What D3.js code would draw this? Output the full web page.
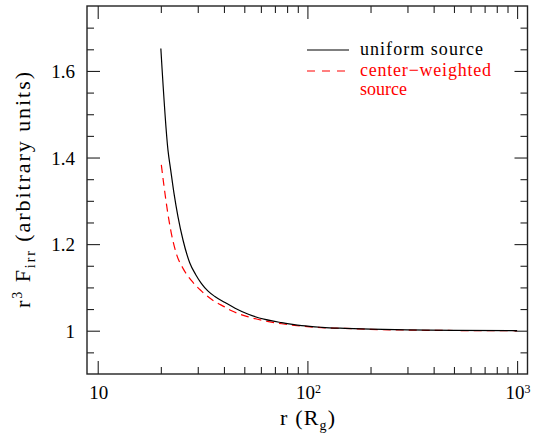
<!DOCTYPE html>
<html>
<head>
<meta charset="utf-8">
<script src="https://cdn.jsdelivr.net/npm/d3@7"></script>
<style>
  html, body { margin: 0; padding: 0; background: #fff; }
  svg { display: block; }
</style>
</head>
<body>
<svg id="chart" width="538" height="435"></svg>
<script>
// ---- data ----
const rUniform = [20, 21.63, 22.29, 23.11, 24.15, 25.51, 27.46, 29.3, 31.19, 33.5, 36.2, 40.5, 45.2, 52.3, 62.8, 75.4, 93.9, 117, 151, 200, 300, 500, 1000];
const yUniform = [1.652, 1.417, 1.371, 1.317, 1.263, 1.2095, 1.157, 1.130, 1.1095, 1.092, 1.079, 1.065, 1.052, 1.038, 1.026, 1.0185, 1.0116, 1.0079, 1.0055, 1.0035, 1.0018, 1.0008, 1.000];
const rCenter = [20.11, 20.72, 21.47, 22.44, 23.71, 25.51, 27.95, 31.19, 35.5, 40.3, 43.5, 52.3, 62.8, 75.4, 93.9, 117, 151, 200, 300, 500, 1000];
const yCenter = [1.383, 1.333, 1.279, 1.225, 1.178, 1.144, 1.116, 1.092, 1.070, 1.055, 1.046, 1.032, 1.0225, 1.016, 1.0105, 1.007, 1.0052, 1.003, 1.0015, 1.0005, 1.000];
const seriesNames = ["uniform source", "center\u2212weighted", "source"];
const xMajorTicks = [10, 100, 1000];
const xMajorBase = ["10", "10", "10"];
const xMajorExp = ["", "2", "3"];
const xMinorTicks = [20, 30, 40, 50, 60, 70, 80, 90, 200, 300, 400, 500, 600, 700, 800, 900];
const yMajorTicks = [1, 1.2, 1.4, 1.6];
const yMajorLabels = ["1", "1.2", "1.4", "1.6"];
const yMinorTicks = [0.95, 1.05, 1.1, 1.15, 1.25, 1.3, 1.35, 1.45, 1.5, 1.55, 1.65, 1.7];
const xDomain = [8.89, 1121];
const yDomain = [0.9, 1.75];

// ---- layout ----
const FONT = "'Liberation Serif', 'DejaVu Serif', serif";
const L = 87, R = 527.5, T = 6, B = 374;
const svg = d3.select("#chart").attr("font-family", FONT);
const x = d3.scaleLog().domain(xDomain).range([L, R]);
const y = d3.scaleLinear().domain(yDomain).range([B, T]);

const axisColor = "#222";
const majorLen = 13, minorLen = 7;

function styleAxis(g) {
  g.select(".domain").remove();
  g.selectAll("line").attr("stroke", axisColor).attr("stroke-width", 1.1);
  g.selectAll("text").remove();
}
function ticks(axisFn, pos, isX, vals, len) {
  svg.append("g").attr("transform", isX ? `translate(0,${pos})` : `translate(${pos},0)`)
    .call(axisFn(isX ? x : y).tickValues(vals).tickSize(-len).tickFormat("")).call(styleAxis);
}
ticks(d3.axisBottom, B, true, xMajorTicks, majorLen);
ticks(d3.axisBottom, B, true, xMinorTicks, minorLen);
ticks(d3.axisTop, T, true, xMajorTicks, majorLen);
ticks(d3.axisTop, T, true, xMinorTicks, minorLen);
ticks(d3.axisLeft, L, false, yMajorTicks, majorLen);
ticks(d3.axisLeft, L, false, yMinorTicks, minorLen);
ticks(d3.axisRight, R, false, yMajorTicks, majorLen);
ticks(d3.axisRight, R, false, yMinorTicks, minorLen);

// frame
svg.append("rect").attr("x", L).attr("y", T).attr("width", R - L).attr("height", B - T)
  .attr("fill", "none").attr("stroke", axisColor).attr("stroke-width", 1.4);

// tick labels
svg.append("g").selectAll("text").data(yMajorTicks).join("text")
  .attr("x", 75).attr("y", d => y(d) + 7)
  .attr("text-anchor", "end").attr("font-size", 19).attr("fill", "#000")
  .text((d, i) => yMajorLabels[i]);

const xl = svg.append("g").selectAll("text").data(xMajorTicks).join("text")
  .attr("x", d => x(d) + 1).attr("y", 398.5)
  .attr("text-anchor", "middle").attr("font-size", 19).attr("fill", "#000");
xl.append("tspan").text((d, i) => xMajorBase[i]);
xl.append("tspan").attr("font-size", 12).attr("dy", -5.5).text((d, i) => xMajorExp[i]);

// axis titles
const xt = svg.append("text").attr("x", 307.5).attr("y", 425).attr("text-anchor", "middle")
  .attr("font-size", 22).attr("fill", "#000")
  .attr("textLength", 55).attr("lengthAdjust", "spacing");
xt.append("tspan").text("r (R");
xt.append("tspan").attr("font-size", 14).attr("dy", 5).text("g");
xt.append("tspan").attr("dy", -5).text(")");

const yt = svg.append("text").attr("transform", "translate(30,190) rotate(-90)")
  .attr("text-anchor", "middle").attr("font-size", 22).attr("fill", "#000")
  .attr("textLength", 236).attr("lengthAdjust", "spacing");
yt.append("tspan").text("r");
yt.append("tspan").attr("font-size", 14).attr("dy", -8).text("3");
yt.append("tspan").attr("dy", 8).text(" F");
yt.append("tspan").attr("font-size", 14).attr("dy", 5).text("irr");
yt.append("tspan").attr("dy", -5).text(" (arbitrary units)");

// curves
svg.append("clipPath").attr("id", "clip").append("rect")
  .attr("x", L).attr("y", T).attr("width", R - L).attr("height", B - T);
const line = d3.line().x(d => x(d[0])).y(d => y(d[1])).curve(d3.curveMonotoneX);
const uni = rUniform.map((r, i) => [r, yUniform[i]]);
const cen = rCenter.map((r, i) => [r, yCenter[i]]);
svg.append("path").datum(cen).attr("d", line).attr("clip-path", "url(#clip)")
  .attr("fill", "none").attr("stroke", "#ff0000").attr("stroke-width", 1.2).attr("stroke-dasharray", "8,5");
svg.append("path").datum(uni).attr("d", line).attr("clip-path", "url(#clip)")
  .attr("fill", "none").attr("stroke", "#000").attr("stroke-width", 1.2);

// legend
svg.append("line").attr("x1", 307).attr("x2", 349).attr("y1", 50).attr("y2", 50)
  .attr("stroke", "#000").attr("stroke-width", 1.2);
svg.append("text").attr("x", 360).attr("y", 55).attr("font-size", 18).attr("fill", "#000")
  .attr("textLength", 123).attr("lengthAdjust", "spacing").text(seriesNames[0]);
svg.append("line").attr("x1", 307).attr("x2", 345).attr("y1", 71).attr("y2", 71)
  .attr("stroke", "#ff0000").attr("stroke-width", 1.2).attr("stroke-dasharray", "8,7");
svg.append("text").attr("x", 360).attr("y", 76).attr("font-size", 18).attr("fill", "#ff0000")
  .attr("textLength", 131).attr("lengthAdjust", "spacing").text(seriesNames[1]);
svg.append("text").attr("x", 360).attr("y", 94.5).attr("font-size", 18).attr("fill", "#ff0000")
  .text(seriesNames[2]);
</script>
</body>
</html>
